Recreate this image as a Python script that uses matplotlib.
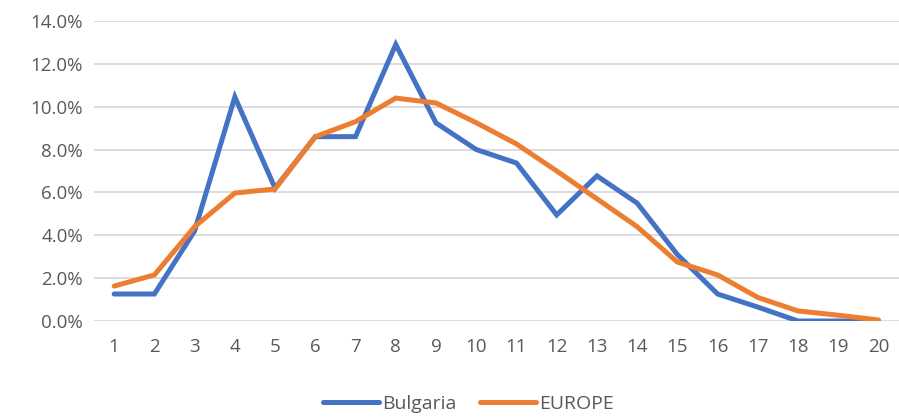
import matplotlib.pyplot as plt
from matplotlib.ticker import PercentFormatter

# data (percent)
categories = list(range(1, 21))
bulgaria = [1.26, 1.26, 4.2, 10.45, 6.2, 8.6, 8.6, 12.9, 9.24, 8.0,
            7.37, 4.95, 6.77, 5.5, 3.1, 1.26, 0.65, 0.0, 0.0, 0.0]
europe = [1.63, 2.15, 4.4, 5.97, 6.16, 8.6, 9.3, 10.4, 10.17, 9.25,
          8.26, 7.0, 5.7, 4.4, 2.75, 2.15, 1.1, 0.47, 0.27, 0.05]

plt.rcParams['font.family'] = ['Open Sans', 'DejaVu Sans']

fig = plt.figure(figsize=(8.99, 4.18), dpi=100)
ax = fig.add_axes([0.1046, 0.232, 0.895, 0.718])

ax.plot(categories, bulgaria, color='#4472C4', lw=3.6, label='Bulgaria',
        solid_joinstyle='miter', solid_capstyle='round')
ax.plot(categories, europe, color='#ED7D31', lw=3.6, label='EUROPE',
        solid_joinstyle='miter', solid_capstyle='round')

ax.set_xlim(0.5, 20.5)
ax.set_ylim(0, 14)
ax.set_yticks([0, 2, 4, 6, 8, 10, 12, 14])
ax.yaxis.set_major_formatter(PercentFormatter(decimals=1))
ax.set_xticks(categories)
ax.grid(axis='y', color='#D9D9D9', lw=1.3)
ax.set_axisbelow(True)
for s in ax.spines.values():
    s.set_visible(False)
ax.tick_params(length=0, labelsize=13.5, colors='#595959', pad=8)
ax.tick_params(axis='x', pad=12)

ax.legend(loc='lower center', bbox_to_anchor=(0.465, -0.365), ncol=2,
          frameon=False, fontsize=14, labelcolor='#595959',
          handlelength=2.9, handletextpad=0.15, columnspacing=1.2)

fig.savefig('out.png', dpi=100)
